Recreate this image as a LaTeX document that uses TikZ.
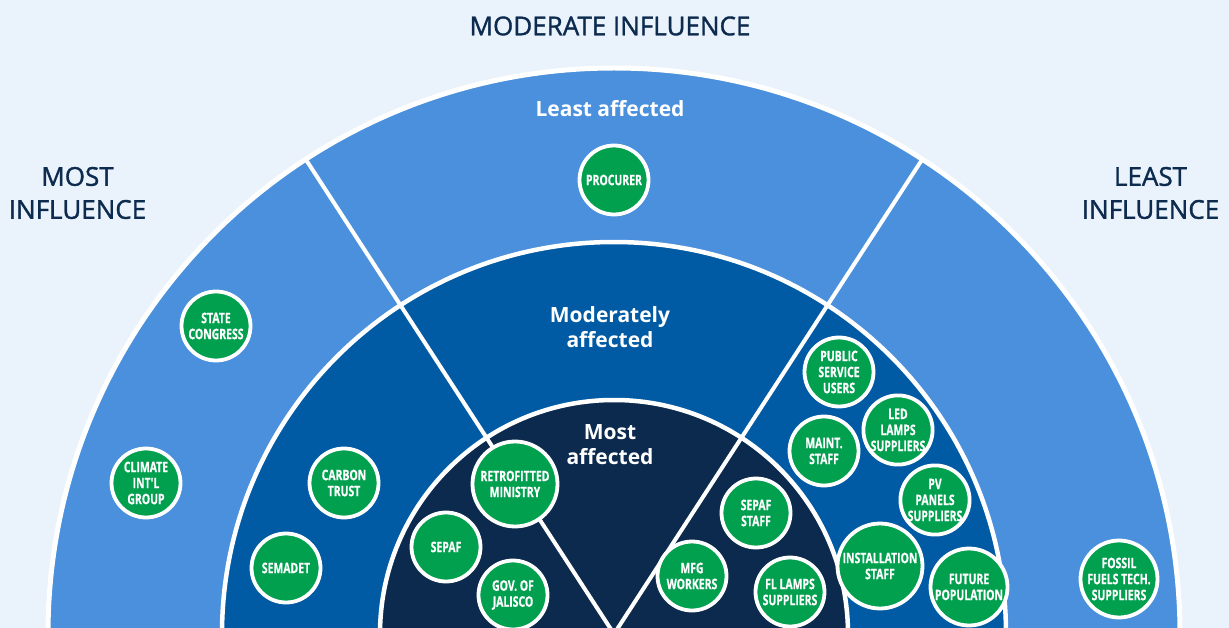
\documentclass[tikz,border=0pt]{standalone}
\usepackage{fontspec}
\usetikzlibrary{calc}
\setmainfont{Open Sans}
\newfontfamily\nodefont{Open Sans}[FakeStretch=0.72,FakeBold=0.6]
\newfontfamily\titlefont{Open Sans}[FakeBold=1.3]
\definecolor{bgc}{HTML}{EAF2FB}
\definecolor{ringout}{HTML}{4A90DC}
\definecolor{ringmid}{HTML}{005AA4}
\definecolor{ringin}{HTML}{0B2A4E}
\definecolor{stgreen}{HTML}{00A04E}
\definecolor{titlec}{HTML}{0D2B4E}
\tikzset{
  stake/.style={circle, fill=stgreen, draw=white, line width=3.8pt, text=white,
    align=center, inner sep=0pt, minimum size=69pt,
    font=\nodefont\bfseries\fontsize{14.5}{16}\selectfont},
  bigstake/.style={stake, minimum size=85pt},
  midstake/.style={stake, minimum size=77pt},
  ringlabel/.style={text=white, align=center, inner sep=0pt,
    font=\bfseries\fontsize{21}{25}\selectfont},
  influence/.style={text=titlec, align=center, inner sep=0pt,
    font=\titlefont\fontsize{26}{33}\selectfont},
  ringedge/.style={draw=white, line width=4.5pt},
  divider/.style={draw=white, line width=4pt}
}
\begin{document}
\begin{tikzpicture}[x=1pt,y=-1pt]
\useasboundingbox (0,0) rectangle (1229,628);
\begin{scope}
\clip (0,0) rectangle (1229,628);
\fill[bgc] (0,0) rectangle (1229,628);
\coordinate (c) at (614,634);
\path[ringedge, fill=ringout, line width=5pt] (c) circle[radius=566pt];
\path[ringedge, fill=ringmid] (c) circle[radius=392pt];
\path[ringedge, fill=ringin] (c) circle[radius=234pt];
\coordinate (lend) at ($(c)+(123:566pt)$);
\coordinate (rend) at ($(c)+(57:566pt)$);
\draw[divider] (c) -- (lend);
\draw[divider] (c) -- (rend);
\end{scope}
% titles
\node[influence] (tmod) at (610,26) {MODERATE INFLUENCE};
\node[influence] (tmost) at (77.5,193) {MOST\\INFLUENCE};
\node[influence] (tleast) at (1150.5,193) {LEAST\\INFLUENCE};
% ring labels
\node[ringlabel] (lleast) at (610,109) {Least affected};
\node[ringlabel] (lmod) at (610,327) {Moderately\\affected};
\node[ringlabel] (lmost) at (610,445) {Most\\affected};
% stakeholders
\node[stake] (procurer) at (614,180) {PROCURER};
\node[stake] (state) at (216,326) {STATE\\CONGRESS};
\node[stake] (climate) at (146,483) {CLIMATE\\INT'L\\GROUP};
\node[stake] (carbon) at (344,483) {CARBON\\TRUST};
\node[stake] (semadet) at (286,568) {SEMADET};
\node[stake] (sepaf) at (446,547) {SEPAF};
\node[bigstake] (retro) at (515,484) {RETROFITTED\\MINISTRY};
\node[stake] (gov) at (513,595) {GOV. OF\\JALISCO};
\node[stake] (mfg) at (692,576) {MFG\\WORKERS};
\node[stake] (fl) at (790,592) {FL LAMPS\\SUPPLIERS};
\node[stake] (sepafstaff) at (756,513) {SEPAF\\STAFF};
\node[stake] (maint) at (824,451) {MAINT.\\STAFF};
\node[stake] (public) at (839,372) {PUBLIC\\SERVICE\\USERS};
\node[stake] (led) at (898,430) {LED\\LAMPS\\SUPPLIERS};
\node[stake] (pv) at (935,500) {PV\\PANELS\\SUPPLIERS};
\node[bigstake] (install) at (880,566) {INSTALLATION\\STAFF};
\node[midstake] (future) at (969,587) {FUTURE\\POPULATION};
\node[midstake] (fossil) at (1119,579) {FOSSIL\\FUELS TECH.\\SUPPLIERS};
\end{tikzpicture}
\end{document}
